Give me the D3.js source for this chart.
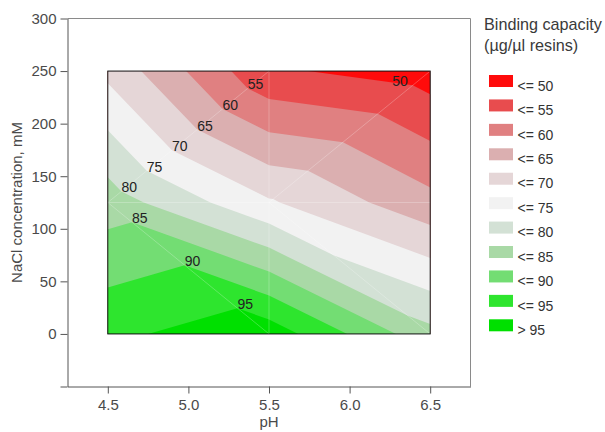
<!DOCTYPE html>
<html><head><meta charset="utf-8">
<script src="https://cdn.jsdelivr.net/npm/d3@7"></script>
<style>
body{margin:0;background:#fff;}
svg text{font-family:"Liberation Sans",Arial,Helvetica,sans-serif;}
</style>
</head><body>
<svg id="chart" width="605" height="432"></svg>
<script>
// ---- data ----
const phValues = [4.5, 5.5, 6.5];
const naclValues = [0, 125, 250];
// binding capacity (µg/µl resin); rows = NaCl (0,125,250), columns = pH (4.5,5.5,6.5)
const capacity = [
  [94.0, 98.0, 81.5],
  [82.7, 70.6, 61.6],
  [68.7, 50.8, 47.5]
];
const thresholds = [50, 55, 60, 65, 70, 75, 80, 85, 90, 95];
const bandLabels = ["<= 50", "<= 55", "<= 60", "<= 65", "<= 70", "<= 75", "<= 80", "<= 85", "<= 90", "<= 95", "> 95"];
const bandColors = ["#ff0b0b", "#e84c4e", "#e08081", "#dbafb0", "#e5d6d7", "#f2f2f2", "#d3e1d5", "#a9d9a6", "#73dd73", "#2ee52e", "#00e000"];
const xTicks = [4.5, 5.0, 5.5, 6.0, 6.5];
const yTicks = [-50, 0, 50, 100, 150, 200, 250, 300];

// ---- layout ----
const svg = d3.select("#chart");
const x = d3.scaleLinear().domain([4.25, 6.75]).range([67.5, 470.5]);
const y = d3.scaleLinear().domain([-50, 300]).range([386.5, 18.5]);
const axisColor = "#555", frameColor = "#8a8a8a", textColor = "#4a4a4a";

// frame (top / right)
svg.append("path")
  .attr("d", `M${x(4.25)},${y(300)}H${x(6.75)}V${y(-50)}`)
  .attr("fill", "none").attr("stroke", frameColor).attr("stroke-width", 1);

// ---- contour triangles ----
const vert = (i, j) => ({ph: phValues[i], nacl: naclValues[j], v: capacity[j][i]});
const triangles = [];
const meshEdges = [];
for (let i = 0; i < phValues.length - 1; i++) {
  for (let j = 0; j < naclValues.length - 1; j++) {
    if (j === 0) {
      triangles.push([vert(i, 0), vert(i, 1), vert(i + 1, 0)]);
      triangles.push([vert(i, 1), vert(i + 1, 1), vert(i + 1, 0)]);
      meshEdges.push([vert(i, 1), vert(i + 1, 0)]);
    } else {
      triangles.push([vert(i, 1), vert(i + 1, 1), vert(i + 1, 2)]);
      triangles.push([vert(i, 1), vert(i, 2), vert(i + 1, 2)]);
      meshEdges.push([vert(i, 1), vert(i + 1, 2)]);
    }
  }
}
meshEdges.push([vert(0, 1), vert(2, 1)]);
meshEdges.push([vert(1, 0), vert(1, 2)]);

function clipAbove(poly, t) {
  const out = [];
  for (let k = 0; k < poly.length; k++) {
    const a = poly[k], b = poly[(k + 1) % poly.length];
    const ain = a.v > t, bin = b.v > t;
    if (ain) out.push(a);
    if (ain !== bin) {
      const s = (t - a.v) / (b.v - a.v);
      out.push({ph: a.ph + (b.ph - a.ph) * s, nacl: a.nacl + (b.nacl - a.nacl) * s, v: t});
    }
  }
  return out;
}
const line = d3.line().x(d => x(d.ph)).y(d => y(d.nacl));
function ringPath(p) {
  const pts = p.map(d => [x(d.ph), y(d.nacl)]);
  if (d3.polygonArea(pts) < 0) p = p.slice().reverse();
  return line(p) + "Z";
}
const gC = svg.append("g");
// lowest band as the base
gC.append("path").attr("d", triangles.map(ringPath).join("")).attr("fill", bandColors[0]);
thresholds.forEach((t, k) => {
  const d = triangles.map(tri => clipAbove(tri, t)).filter(p => p.length >= 3).map(ringPath).join("");
  if (d) gC.append("path").attr("d", d).attr("fill", bandColors[k + 1]);
});
// faint triangulation seams
gC.selectAll(".mesh").data(meshEdges).join("path").attr("class", "mesh")
  .attr("d", line).attr("fill", "none").attr("stroke", "#fff")
  .attr("stroke-opacity", 0.3).attr("stroke-width", 0.8);
// data region border
svg.append("rect")
  .attr("x", x(phValues[0])).attr("y", y(naclValues[2]))
  .attr("width", x(phValues[2]) - x(phValues[0])).attr("height", y(naclValues[0]) - y(naclValues[2]))
  .attr("fill", "none").attr("stroke", "#111").attr("stroke-width", 1);

// ---- contour labels ----
const diagonals = [[[0, 1], [1, 2]], [[0, 1], [1, 0]], [[1, 1], [2, 2]], [[1, 1], [2, 0]]];
thresholds.forEach(t => {
  for (const [A, B] of diagonals) {
    const a = vert(A[0], A[1]), b = vert(B[0], B[1]);
    if ((a.v - t) * (b.v - t) < 0) {
      const s = (t - a.v) / (b.v - a.v);
      const ph = a.ph + (b.ph - a.ph) * s, nacl = a.nacl + (b.nacl - a.nacl) * s;
      const nearRight = ph > 6.0;
      svg.append("text")
        .attr("x", x(ph) + (nearRight ? -5 : 0))
        .attr("y", y(nacl) + 1)
        .attr("text-anchor", nearRight ? "end" : "start")
        .attr("font-size", 14).attr("fill", "#222")
        .text(t);
      break;
    }
  }
});

// ---- axes ----
const yAxis = d3.axisLeft(y).tickValues(yTicks).tickSize(7).tickSizeOuter(0).tickPadding(4)
  .tickFormat(d => d < 0 ? "" : d3.format("d")(d));
const gy = svg.append("g").attr("transform", `translate(${x(4.25)},0)`).call(yAxis);
const xAxis = d3.axisBottom(x).tickValues(xTicks).tickSize(7).tickSizeOuter(0).tickPadding(6)
  .tickFormat(d3.format(".1f"));
const gx = svg.append("g").attr("transform", `translate(0,${y(-50)})`).call(xAxis);
[gx, gy].forEach(g => {
  g.select(".domain").attr("stroke", axisColor);
  g.selectAll(".tick line").attr("stroke", axisColor);
  g.selectAll(".tick text").attr("fill", textColor).attr("font-size", 15)
    .attr("font-family", '"Liberation Sans",Arial,sans-serif');
});
svg.append("text").attr("x", x(5.5)).attr("y", 427).attr("text-anchor", "middle")
  .attr("font-size", 15).attr("fill", textColor).text("pH");
svg.append("text").attr("transform", `translate(22,${(y(-50) + y(300)) / 2}) rotate(-90)`)
  .attr("text-anchor", "middle").attr("font-size", 15).attr("fill", textColor)
  .text("NaCl concentration, mM");

// ---- legend ----
const gL = svg.append("g");
gL.append("text").attr("x", 484).attr("y", 29.5).attr("font-size", 16.2).attr("fill", "#3a3a3a").text("Binding capacity");
gL.append("text").attr("x", 484).attr("y", 50.5).attr("font-size", 16.2).attr("fill", "#3a3a3a").text("(µg/µl resins)");
bandLabels.forEach((lab, i) => {
  const top = 75 + i * 24.43;
  gL.append("rect").attr("x", 489).attr("y", top).attr("width", 24).attr("height", 12).attr("fill", bandColors[i]);
  gL.append("text").attr("x", 517.5).attr("y", top + 15.7).attr("font-size", 14).attr("fill", "#333").text(lab);
});
</script>
</body></html>
